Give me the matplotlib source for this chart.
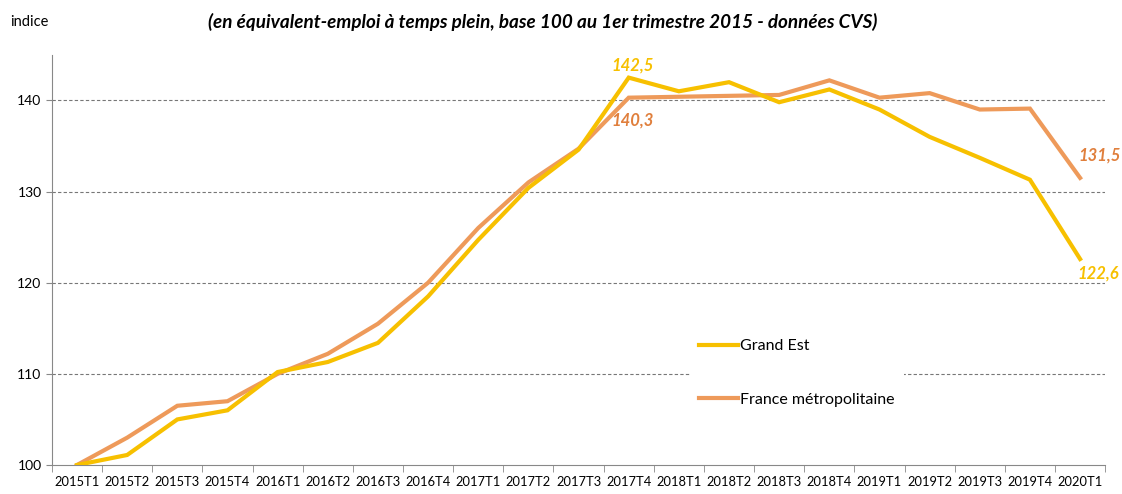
import numpy as np
import matplotlib.pyplot as plt

# quarters and index values (base 100 = 2015T1)
quarters = ["2015T1", "2015T2", "2015T3", "2015T4", "2016T1", "2016T2", "2016T3",
            "2016T4", "2017T1", "2017T2", "2017T3", "2017T4", "2018T1", "2018T2",
            "2018T3", "2018T4", "2019T1", "2019T2", "2019T3", "2019T4", "2020T1"]
grand_est = [100, 101.1, 105, 106, 110.2, 111.3, 113.4, 118.5, 124.7, 130.4, 134.6,
             142.5, 141, 142, 139.8, 141.2, 139, 136, 133.7, 131.3, 122.6]
france = [100, 103, 106.5, 107, 110, 112.2, 115.5, 120, 126, 131, 134.7,
          140.3, 140.4, 140.5, 140.6, 142.2, 140.3, 140.8, 139, 139.1, 131.5]

yellow = "#F7C000"
orange = "#EE9A5A"
label_orange = "#E07F3C"

plt.rcParams["font.family"] = ["Lato", "DejaVu Sans"]

fig = plt.figure(figsize=(11.22, 4.94), dpi=100)
ax = fig.add_axes([0.0463, 0.0587, 0.9387, 0.8303])

x = np.arange(len(quarters))
ax.plot(x, grand_est, color=yellow, lw=3, label="Grand Est", solid_joinstyle="miter", zorder=3)
ax.plot(x, france, color=orange, lw=3, label="France métropolitaine", solid_joinstyle="miter", zorder=2)

ax.set_xlim(-0.5, len(quarters) - 0.5)
ax.set_ylim(100, 145)
ax.set_yticks([100, 110, 120, 130, 140])
ax.tick_params(axis="y", labelsize=10, length=4, color="#888888")
for yv in [110, 120, 130, 140]:
    ax.axhline(yv, color="#777777", lw=0.8, ls=(0, (3, 2)), zorder=1)

ax.set_xticks(x)
ax.set_xticklabels(quarters, fontsize=9.3)
ax.tick_params(axis="x", length=0, pad=8)
ax.set_xticks(np.arange(-0.5, len(quarters)), minor=True)
ax.tick_params(axis="x", which="minor", length=5, color="#888888")

for s in ["top", "right"]:
    ax.spines[s].set_visible(False)
for s in ["left", "bottom"]:
    ax.spines[s].set_color("#888888")

# value labels
lab = dict(textcoords="offset points", ha="center", fontsize=12, fontweight="bold", fontstyle="italic")
ax.annotate("142,5", (11, grand_est[11]), xytext=(3, 3), va="bottom", color=yellow, **lab)
ax.annotate("140,3", (11, france[11]), xytext=(3, -11), va="top", color=label_orange, **lab)
ax.annotate("131,5", (20, france[20]), xytext=(14, 10), va="bottom", color=label_orange, **lab)
ax.annotate("122,6", (20, grand_est[20]), xytext=(13, -5), va="top", color=yellow, **lab)

leg = ax.legend(loc="upper left", bbox_to_anchor=(0.598, 0.35), frameon=True, fontsize=11.5,
                handlelength=2.4, handletextpad=0.15, labelspacing=2.45, borderpad=0.6)
leg.get_frame().set_facecolor("white")
leg.get_frame().set_edgecolor("none")
leg.get_frame().set_alpha(1)
leg.set_zorder(5)

fig.text(0.009, 0.955, "indice", fontsize=10.5, va="center", ha="left")
fig.text(0.484, 0.956, "(en équivalent-emploi à temps plein, base 100 au 1er trimestre 2015 - données CVS)",
         fontsize=13.6, fontweight="bold", fontstyle="italic", ha="center", va="center")

fig.savefig("out.png", dpi=100)
